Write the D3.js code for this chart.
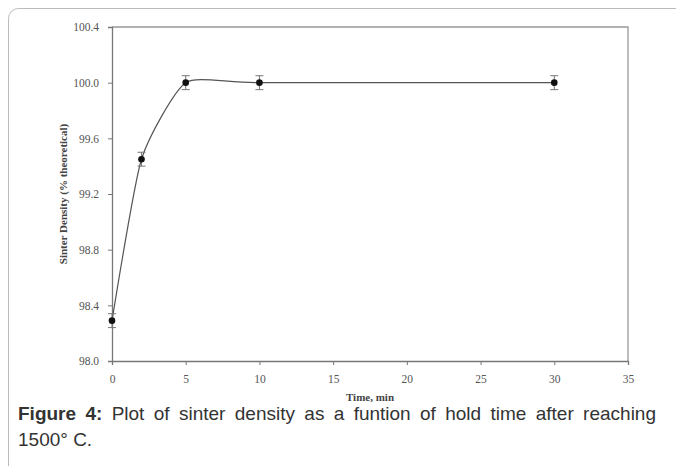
<!DOCTYPE html>
<html>
<head>
<meta charset="utf-8">
<script src="https://cdn.jsdelivr.net/npm/d3@7"></script>
<style>
  html, body { margin: 0; padding: 0; background: #fff; }
  svg { display: block; }
</style>
</head>
<body>
<svg id="chart" width="676" height="466"></svg>
<script>
// hold time (min) vs sinter density (% theoretical)
const times     = [0, 2, 5, 10, 30];
const density   = [98.29, 99.45, 100.0, 100.0, 100.0];
const errors    = [0.05, 0.05, 0.05, 0.05, 0.05];
const xTicks    = [0, 5, 10, 15, 20, 25, 30, 35];
const yTicks    = [98.0, 98.4, 98.8, 99.2, 99.6, 100.0, 100.4];

const svg = d3.select('#chart');
const W = 676, H = 466;
const margin = { left: 112, right: 48, top: 27, bottom: 105 };
const SERIF = '"Liberation Serif", "Times New Roman", serif';

// outer figure frame, rounded top-left corner, running off right/bottom
svg.append('rect')
  .attr('x', 8.5).attr('y', 8.5)
  .attr('width', W + 20).attr('height', H + 20)
  .attr('rx', 10).attr('ry', 10)
  .attr('fill', 'none')
  .attr('stroke', '#bbb')
  .attr('stroke-width', 1);

const x = d3.scaleLinear().domain([0, 35]).range([margin.left, W - margin.right]);
const y = d3.scaleLinear().domain([98.0, 100.4]).range([H - margin.bottom, margin.top]);

const g = svg.append('g');

// top / right frame
g.append('path')
  .attr('d', `M${x(0)},${y(100.4)}H${x(35)}V${y(98.0)}`)
  .attr('fill', 'none')
  .attr('stroke', '#999')
  .attr('stroke-width', 1.3);

const xAxis = g.append('g')
  .attr('transform', `translate(0,${y(98.0)})`)
  .call(d3.axisBottom(x).tickValues(xTicks).tickSize(4).tickPadding(10).tickFormat(d3.format('d')));

const yAxis = g.append('g')
  .attr('transform', `translate(${x(0)},0)`)
  .call(d3.axisLeft(y).tickValues(yTicks).tickSize(4).tickPadding(9).tickFormat(d3.format('.1f')));

[xAxis, yAxis].forEach(a => {
  a.attr('font-family', SERIF).attr('font-size', 11.5);
  a.select('.domain').attr('stroke', '#777').attr('stroke-width', 1.3);
  a.selectAll('.tick line').attr('stroke', '#777');
  a.selectAll('.tick text').attr('fill', '#555');
});

// axis titles
svg.append('text')
  .attr('x', x(17.5)).attr('y', 401)
  .attr('text-anchor', 'middle')
  .attr('font-family', SERIF)
  .attr('font-weight', 'bold')
  .attr('font-size', 11)
  .attr('fill', '#444')
  .text('Time, min');

svg.append('text')
  .attr('transform', `translate(67,${y(99.2)}) rotate(-90)`)
  .attr('text-anchor', 'middle')
  .attr('font-family', SERIF)
  .attr('font-weight', 'bold')
  .attr('font-size', 11)
  .attr('fill', '#444')
  .text('Sinter Density (% theoretical)');

// smoothed curve through the points
const pts = times.map((t, i) => [t, density[i]]);
const line = d3.line()
  .x(d => x(d[0]))
  .y(d => y(d[1]))
  .curve(d3.curveCardinal.tension(0.45));

g.append('path')
  .datum(pts)
  .attr('d', line)
  .attr('fill', 'none')
  .attr('stroke', '#555')
  .attr('stroke-width', 1.2);

// error bars
const eb = g.append('g').attr('stroke', '#777').attr('stroke-width', 1);
times.forEach((t, i) => {
  const cx = x(t), lo = y(density[i] - errors[i]), hi = y(density[i] + errors[i]);
  eb.append('line').attr('x1', cx).attr('x2', cx).attr('y1', lo).attr('y2', hi);
  eb.append('line').attr('x1', cx - 4).attr('x2', cx + 4).attr('y1', lo).attr('y2', lo);
  eb.append('line').attr('x1', cx - 4).attr('x2', cx + 4).attr('y1', hi).attr('y2', hi);
});

g.selectAll('circle.pt')
  .data(pts)
  .enter().append('circle')
  .attr('class', 'pt')
  .attr('cx', d => x(d[0]))
  .attr('cy', d => y(d[1]))
  .attr('r', 3.3)
  .attr('fill', '#111');

// caption, first line justified by widening word gaps
const cap = svg.append('g')
  .attr('font-family', '"Liberation Sans", Arial, sans-serif')
  .attr('font-size', 19)
  .attr('fill', '#333');

const l1 = cap.append('text').attr('x', 18).attr('y', 420);
l1.append('tspan').attr('font-weight', 'bold').text('Figure 4:');
l1.append('tspan').text(' Plot of sinter density as a funtion of hold time after reaching');
const natural = l1.node().getComputedTextLength();
const gaps = 13;
l1.attr('word-spacing', Math.max(0, (638 - natural) / gaps));

cap.append('text')
  .attr('x', 18).attr('y', 446)
  .text('1500\u00b0 C.');
</script>
</body>
</html>
